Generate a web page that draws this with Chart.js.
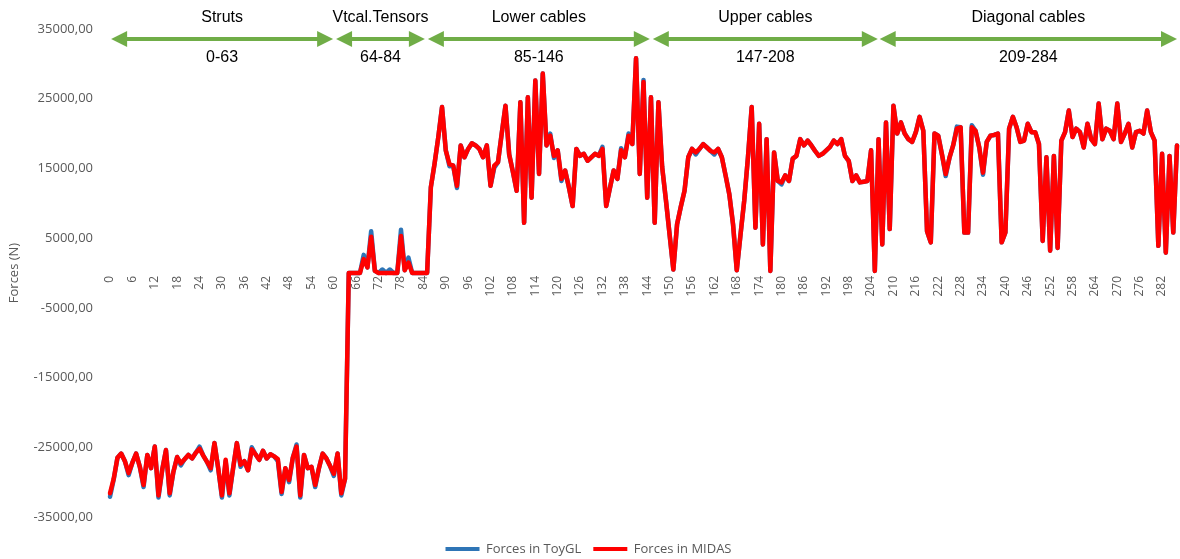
<!DOCTYPE html>
<html>
<head>
<meta charset="utf-8">
<script src="https://cdn.jsdelivr.net/npm/chart.js"></script>
<style>
  html, body { margin: 0; padding: 0; background: #fff; }
</style>
</head>
<body>
<canvas id="myChart" width="1180" height="559"></canvas>
<script>
// fuerzas en MIDAS (N), una por elemento
const midas = [
  -31600, -29500, -26500, -25900, -27000, -28700, -27200, -25900, -27800, -30400, -26100, -28000, -24900, -31900, -28200, -25400,
  -31600, -28500, -26400, -27300, -26700, -26100, -26600, -25800, -25200, -26200, -27100, -28000, -24400, -28000, -31900, -26800,
  -31600, -28000, -24400, -27500, -27000, -28300, -25300, -26000, -26800, -25500, -26600, -26000, -26300, -26700, -31400, -28000,
  -29700, -26500, -24900, -31900, -26100, -28000, -27800, -30400, -28000, -25900, -26600, -27700, -28800, -25900, -31600, -29500,
  0, 0, 0, 0, 2000, 800, 5200, 300, 0, 0, 0, 0, 0, 0, 5300, 400,
  1500, 0, 0, 0, 0, 0, 12300, 15700, 19500, 23800, 17600, 15600, 15400, 12500, 18300, 16600,
  17800, 18600, 18300, 17800, 16600, 18300, 12500, 15400, 15900, 20000, 24000, 17000, 14500, 11800, 24500, 7200,
  25200, 10800, 27600, 14200, 28600, 18300, 19700, 16800, 17600, 13500, 14700, 12300, 9600, 17800, 16800, 17100,
  16100, 16600, 17100, 16800, 17800, 9600, 12200, 14700, 13500, 17600, 16600, 19700, 18500, 30800, 14200, 27400,
  10800, 25200, 7200, 24500, 15200, 10500, 5500, 500, 7000, 9500, 11800, 16600, 17800, 17300, 17800, 18500,
  18000, 17500, 17300, 17800, 16600, 14000, 11300, 7000, 400, 5500, 10400, 16600, 23800, 6500, 21400, 4100,
  19200, 300, 17300, 13200, 13000, 14000, 13200, 16400, 16800, 19200, 18300, 19000, 18300, 17500, 16800, 17100,
  17600, 18100, 19000, 18500, 19200, 16800, 16100, 13200, 14000, 13000, 13100, 13200, 17600, 300, 19200, 4100,
  21600, 6300, 24000, 20000, 21600, 20000, 19200, 18800, 20200, 22400, 20400, 6000, 4400, 20000, 19700, 17000,
  14200, 16500, 18300, 20700, 20900, 5800, 5800, 20900, 20400, 18000, 14400, 18800, 19700, 19800, 20000, 4400,
  5800, 20700, 22400, 20900, 18800, 19000, 21400, 20200, 20200, 18500, 4600, 16600, 3200, 16800, 3600, 19000,
  20200, 23300, 19500, 20700, 20200, 18000, 21400, 19200, 18500, 24300, 19200, 20700, 20400, 19200, 24300, 18800,
  20000, 21400, 18000, 20200, 20400, 20000, 23300, 20200, 19000, 3900, 17100, 2900, 16800, 5800, 18300
]

// fuerzas en ToyGL (N), casi iguales, se ve el azul solo en algunos picos
const toyGL = [
  -32100, -29600, -26500, -25900, -27000, -29000, -27200, -25900, -27800, -30700, -26100, -28000, -24900, -32200, -28200, -25400,
  -31900, -28500, -26400, -27600, -26700, -26100, -26600, -25800, -24900, -26200, -27100, -28300, -24400, -28000, -32200, -27000,
  -31900, -28000, -24400, -27800, -27000, -28300, -25000, -26000, -26800, -25500, -26600, -26000, -26300, -27000, -31700, -28000,
  -30000, -26500, -24600, -32200, -26100, -28000, -27800, -30700, -28000, -25900, -26600, -27700, -29100, -25900, -31900, -29500,
  0, 0, 0, 0, 2600, 800, 6000, 300, 0, 500, 0, 500, 0, 0, 6200, 400,
  2200, 0, 0, 0, 0, 0, 12300, 15700, 19500, 23800, 17600, 15300, 15400, 12200, 18300, 16600,
  17800, 18600, 18300, 17800, 16600, 18300, 12500, 15100, 15900, 20000, 24000, 17000, 14500, 11800, 24500, 7200,
  25200, 10800, 27600, 14200, 28600, 18300, 20000, 16500, 17600, 13200, 14700, 12300, 9600, 17800, 16800, 17100,
  16100, 16600, 17100, 16800, 18100, 9600, 12200, 14700, 13500, 17900, 16600, 20000, 18500, 30800, 14200, 27700,
  10800, 25200, 7200, 24500, 15200, 10500, 5500, 500, 7000, 9500, 11800, 16600, 17800, 17000, 17800, 18500,
  18000, 17500, 17000, 17800, 16600, 14000, 11300, 7000, 400, 5500, 10400, 16600, 23800, 6500, 21400, 4100,
  19200, 300, 17300, 13200, 12700, 14000, 13200, 16400, 16800, 19200, 18300, 19000, 18300, 17500, 16800, 17100,
  17600, 18100, 19000, 18500, 19200, 16800, 16100, 13200, 14000, 13000, 13100, 13200, 17600, 300, 19200, 4100,
  21600, 6300, 24000, 20000, 21600, 20000, 19200, 18800, 20200, 22400, 20400, 6000, 4400, 20000, 19700, 17000,
  13900, 16500, 18300, 21000, 20900, 5800, 5800, 21200, 20400, 18000, 14100, 18800, 19700, 19800, 20000, 4400,
  5800, 20700, 22400, 20900, 18800, 19000, 21400, 20200, 20200, 18500, 4600, 16600, 3200, 16800, 3600, 19000,
  20200, 23300, 19500, 20700, 20200, 18000, 21400, 19200, 18500, 24300, 19200, 20700, 20400, 19200, 24300, 18800,
  20000, 21400, 18000, 20200, 20400, 20000, 23300, 20200, 19000, 3900, 17100, 2900, 16800, 5800, 18300
]

const elementos = midas.map((v, i) => String(i))
const pasoEtiquetas = 6

// grupos de elementos (flechas verdes arriba), en unidades del eje x
const grupos = ["Struts", "Vtcal.Tensors", "Lower cables", "Upper cables", "Diagonal cables"]
const rangos = ["0-63", "64-84", "85-146", "147-208", "209-284"]
const flechaDesde = [0.3, 60.6, 85.2, 145.5, 206.3]
const flechaHasta = [59.8, 84.4, 144.7, 205.8, 286]

const verde = "#70AD47"
const gris = "#595959"
const azul = "#2E75B6"
const rojo = "#FF0000"

const flechas = {
  id: "flechas",
  afterDraw(chart) {
    const ctx = chart.ctx
    const xs = chart.scales.x
    const yF = 39
    ctx.save()
    grupos.forEach((g, i) => {
      const x1 = xs.getPixelForValue(flechaDesde[i])
      const x2 = xs.getPixelForValue(flechaHasta[i])
      ctx.strokeStyle = verde
      ctx.fillStyle = verde
      ctx.lineWidth = 4
      ctx.beginPath()
      ctx.moveTo(x1 + 10, yF)
      ctx.lineTo(x2 - 10, yF)
      ctx.stroke()
      ctx.beginPath()
      ctx.moveTo(x1, yF)
      ctx.lineTo(x1 + 16, yF - 8)
      ctx.lineTo(x1 + 16, yF + 8)
      ctx.closePath()
      ctx.fill()
      ctx.beginPath()
      ctx.moveTo(x2, yF)
      ctx.lineTo(x2 - 16, yF - 8)
      ctx.lineTo(x2 - 16, yF + 8)
      ctx.closePath()
      ctx.fill()

      ctx.fillStyle = "#000"
      ctx.font = '16px "Liberation Sans", Arial, sans-serif'
      ctx.textAlign = "center"
      ctx.textBaseline = "middle"
      ctx.fillText(g, (x1 + x2) / 2, 18)
      ctx.fillText(rangos[i], (x1 + x2) / 2, 58)
    })
    ctx.restore()
  }
}

const datasets = [
  {
    label: "Forces in ToyGL",
    data: toyGL,
    borderColor: azul,
    backgroundColor: azul,
    borderWidth: 4.5,
    pointBorderColor: azul,
    pointBorderWidth: 4,
    order: 1
  },
  {
    label: "Forces in MIDAS",
    data: midas,
    borderColor: rojo,
    backgroundColor: rojo,
    borderWidth: 4.5,
    pointBorderColor: rojo,
    pointBorderWidth: 4,
    order: 0
  }
]

const config = {
  type: "line",
  data: { labels: elementos, datasets },
  options: {
    responsive: false,
    animation: false,
    devicePixelRatio: 1,
    layout: { padding: { top: 29, left: 0, right: 3, bottom: -6.5 } },
    elements: {
      point: { radius: 0, hoverRadius: 0 },
      line: { tension: 0, borderJoinStyle: "round", borderCapStyle: "round" }
    },
    datasets: { line: { clip: false, pointStyle: "line" } },
    scales: {
      x: {
        position: { y: 0 },
        offset: false,
        grid: { display: false, drawTicks: false },
        border: { display: false },
        ticks: {
          autoSkip: false,
          minRotation: 90,
          maxRotation: 90,
          padding: 3,
          color: gris,
          font: { family: "'Open Sans', sans-serif", size: 12 },
          callback: (v, i) => (i % pasoEtiquetas === 0 ? elementos[i] : "")
        },
        afterFit: s => { s.paddingLeft = 0; s.paddingRight = 0 }
      },
      y: {
        min: -35000,
        max: 35000,
        grid: { display: false, drawTicks: false },
        border: { display: false },
        ticks: {
          stepSize: 10000,
          padding: 17,
          color: gris,
          font: { family: "'Open Sans', sans-serif", size: 13 },
          callback: v => v.toFixed(2).replace(".", ",")
        },
        title: {
          display: true,
          text: "Forces (N)",
          color: gris,
          font: { family: "'Open Sans', sans-serif", size: 13 },
          padding: { top: 6, bottom: 0 }
        },
        afterFit: s => { s.width = 110 }
      }
    },
    plugins: {
      tooltip: { enabled: false },
      legend: {
        position: "bottom",
        reverse: true,
        title: { display: true, text: "", font: { size: 10, lineHeight: 1.35 }, padding: 0 },
        labels: {
          usePointStyle: true,
          pointStyleWidth: 34,
          padding: 12,
          color: gris,
          font: { family: "'Open Sans', sans-serif", size: 13 }
        }
      }
    }
  },
  plugins: [flechas]
}

new Chart(document.getElementById("myChart"), config)
</script>
</body>
</html>
